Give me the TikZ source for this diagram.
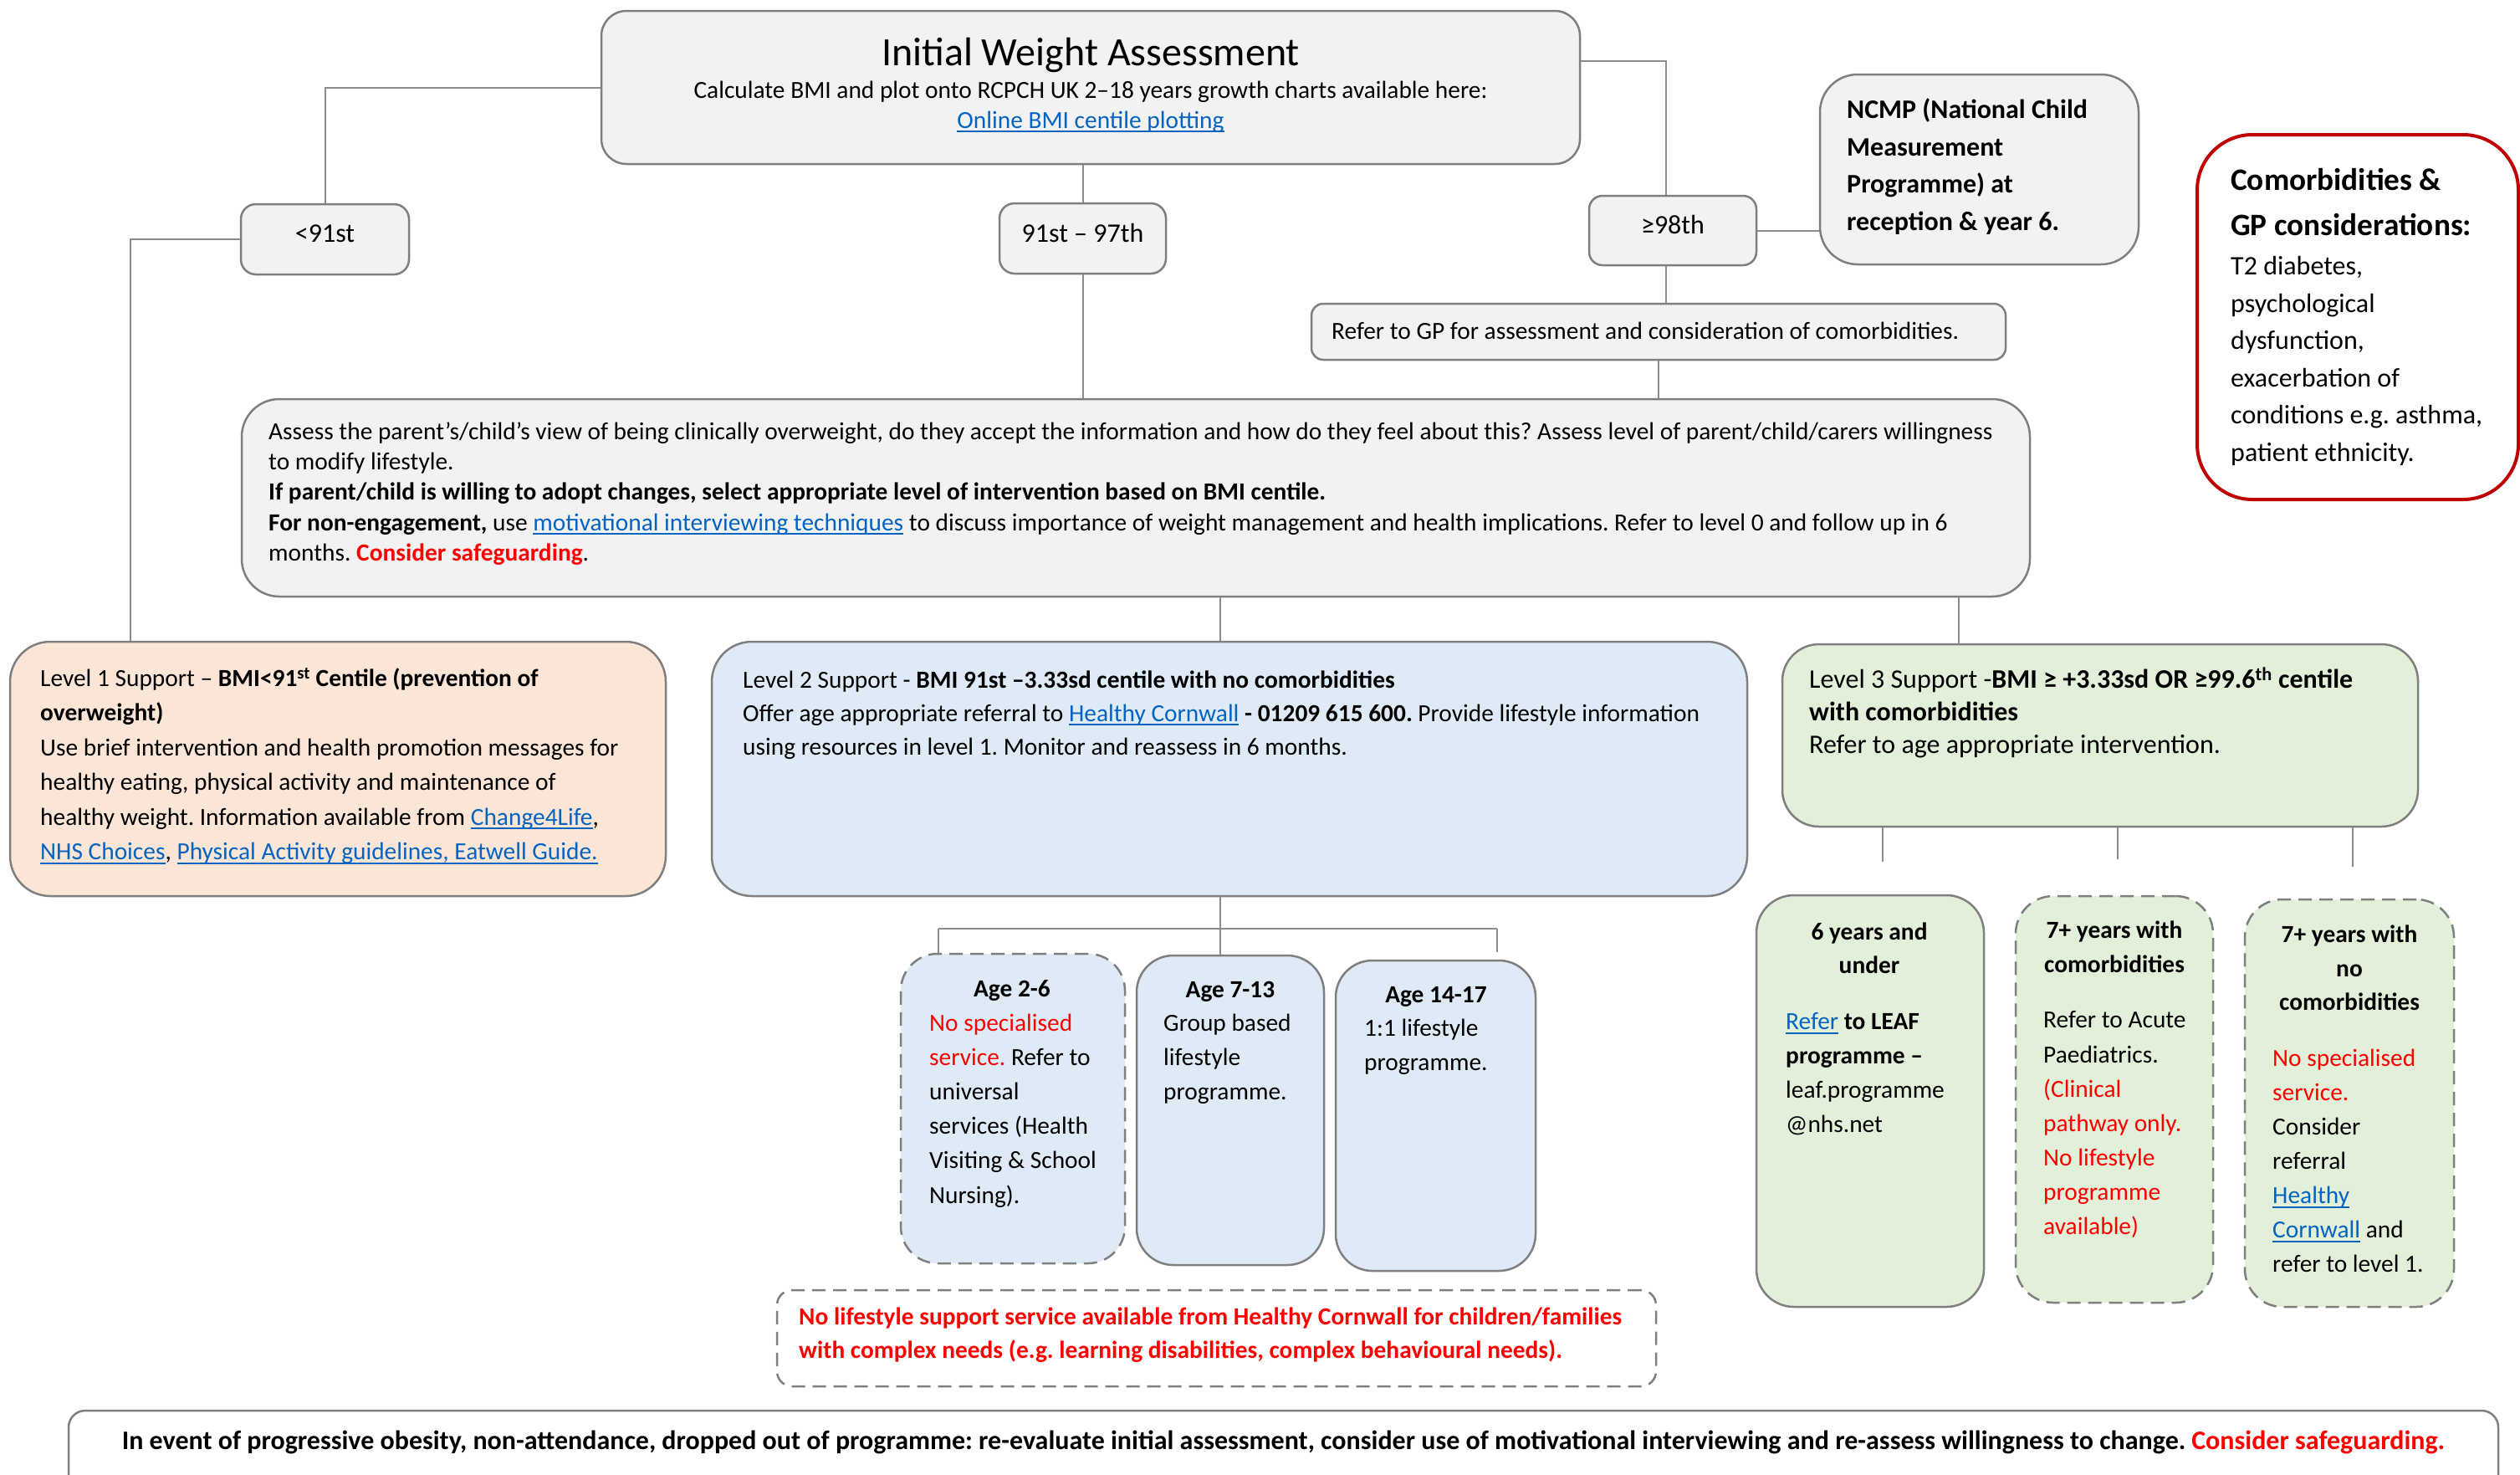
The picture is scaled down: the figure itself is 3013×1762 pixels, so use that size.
\documentclass[tikz,border=0pt]{standalone}
\usepackage{fontspec}
\setmainfont{Carlito}
\usetikzlibrary{calc}
\definecolor{boxgray}{HTML}{F2F2F2}
\definecolor{bordergray}{HTML}{7F7F7F}
\definecolor{linegray}{HTML}{8C8C8C}
\definecolor{peach}{HTML}{FBE5D6}
\definecolor{lblue}{HTML}{DEEBF7}
\definecolor{lgreen}{HTML}{E2EFD9}
\definecolor{linkblue}{HTML}{0563C1}
\definecolor{alertred}{HTML}{FF0000}
\definecolor{darkred}{HTML}{C00000}
\newcommand\fsz[2]{\fontsize{#1pt}{#2pt}\selectfont}
\newcommand\lnk[1]{\textcolor{linkblue}{\setbox0\hbox{#1}\rlap{\rule[-5pt]{\wd0}{1.8pt}}\box0}}
\newcommand\rtxt[1]{\textcolor{alertred}{#1}}
\frenchspacing
\begin{document}
\begin{tikzpicture}[x=1pt,y=-1pt,
  box/.style={draw=bordergray,line width=2.5pt,rounded corners=#1,inner sep=0pt},
  box/.default=40pt,
  dbox/.style={box=#1,dash pattern=on 16pt off 9pt},
  dbox/.default=40pt,
  conn/.style={draw=linegray,line width=2pt},
  txt/.style={anchor=north west,inner sep=0pt,align=left},
  ctxt/.style={anchor=north,inner sep=0pt,align=center},
  btxt/.style={anchor=base,inner sep=0pt},
  body/.style={font=\fsz{29.4}{41.5}}]
\fill[white] (0,0) rectangle (3013,1762);
\useasboundingbox (0,0) rectangle (3013,1762);
\clip (0,0) rectangle (3013,1762);

% ---------- boxes ----------
\node[box=30pt,fill=boxgray,minimum width=1170pt,minimum height=183pt] (iwa) at (1304,104.5) {};
\node[box=18pt,fill=boxgray,minimum width=201pt,minimum height=84pt] (lt91) at (388.5,286) {};
\node[box=18pt,fill=boxgray,minimum width=199pt,minimum height=84pt] (m97) at (1294.5,285) {};
\node[box=16pt,fill=boxgray,minimum width=200pt,minimum height=83pt] (ge98) at (2000,275.5) {};
\node[box=45pt,fill=boxgray,minimum width=381pt,minimum height=227pt] (ncmp) at (2366.5,202.5) {};
\node[box=66pt,draw=darkred,line width=4pt,fill=white,minimum width=384pt,minimum height=436pt] (comorb) at (2819,379) {};
\node[box=14pt,fill=boxgray,minimum width=830pt,minimum height=67pt] (gp) at (1983,396.5) {};
\node[box=45pt,fill=boxgray,minimum width=2138pt,minimum height=236pt] (assess) at (1358,595) {};
\node[box=48pt,fill=peach,minimum width=784pt,minimum height=304pt] (l1) at (404,919) {};
\node[box=48pt,fill=lblue,minimum width=1238pt,minimum height=304pt] (l2) at (1470,919) {};
\node[box=44pt,fill=lgreen,minimum width=760pt,minimum height=218pt] (l3) at (2511,879) {};
\node[dbox=44pt,fill=lblue,minimum width=268pt,minimum height=370pt] (a26) at (1211,1325) {};
\node[box=44pt,fill=lblue,minimum width=224pt,minimum height=370pt] (a713) at (1471,1327) {};
\node[box=44pt,fill=lblue,minimum width=239pt,minimum height=371pt] (a1417) at (1716.5,1333.5) {};
\node[dbox=18pt,fill=white,minimum width=1051pt,minimum height=115pt] (cx) at (1454.5,1599.5) {};
\node[box=45pt,fill=lgreen,minimum width=272pt,minimum height=492pt] (s6) at (2236,1316) {};
\node[dbox=45pt,fill=lgreen,minimum width=236pt,minimum height=486pt] (s7c) at (2528,1314) {};
\node[dbox=45pt,fill=lgreen,minimum width=250pt,minimum height=487pt] (s7n) at (2809,1318.5) {};
\node[box=20pt,fill=white,minimum width=2905pt,minimum height=114pt] (bot) at (1534.5,1743) {};

% ---------- connectors ----------
\draw[conn] (iwa.west) -| (lt91.north);
\draw[conn] ([yshift=31.5pt]iwa.east) -| ([xshift=-8pt]ge98.north);
\draw[conn] (m97.north |- iwa.south) -- (m97.north);
\coordinate (l1in) at ([xshift=-248pt]l1.north);
\draw[conn] (lt91.west) -| (l1in);
\draw[conn] (m97.south) -- (m97.south |- assess.north);
\draw[conn] (ge98.east) -- (ge98.east -| ncmp.west);
\coordinate (gein) at ([xshift=-8pt]ge98.south);
\draw[conn] (gein) -- (gein |- gp.north);
\draw[conn] (gp.south) -- (gp.south |- assess.north);
\coordinate (l2in) at ([xshift=-11pt]l2.north);
\draw[conn] (l2in |- assess.south) -- (l2in);
\coordinate (l3in) at ([xshift=-169pt]l3.north);
\draw[conn] (l3in |- assess.south) -- (l3in);
\coordinate (l2out) at ([xshift=-11pt]l2.south);
\draw[conn] (l2out) -- (l2out |- a713.north);
\coordinate (barL) at (1122,1110);
\coordinate (barR) at (1790,1110);
\coordinate (stubR) at (1790,1138);
\draw[conn] (barL) -- (barR);
\draw[conn] (barL) -- (barL |- a26.north);
\draw[conn] (barR) -- (stubR);
\coordinate (t1) at (2251,1030);
\coordinate (t2) at (2532,1027);
\coordinate (t3) at (2813,1036);
\draw[conn] (t1 |- l3.south) -- (t1);
\draw[conn] (t2 |- l3.south) -- (t2);
\draw[conn] (t3 |- l3.south) -- (t3);

% ---------- texts ----------
\node[btxt,font=\fsz{48}{58}] (iwat) at (1304,78) {Initial Weight Assessment};
\node[btxt,body] (iwas) at (1304,117) {Calculate BMI and plot onto RCPCH UK 2–18 years growth charts available here:};
\node[btxt,body] (iwal) at (1304,153) {\lnk{Online BMI centile plotting}};
\node[btxt,font=\fsz{32}{39}] (lt91t) at (388.5,289) {<91st};
\node[btxt,font=\fsz{32}{39}] (m97t) at (1294.5,289) {91st – 97th};
\node[btxt,font=\fsz{32}{39}] (ge98t) at (2000,279) {≥98th};
\node[txt,font=\fsz{32}{44.7}\bfseries] (ncmpt) at (2208,110) {\strut NCMP (National Child\\Measurement\\Programme) at\\reception \& year 6.};
\node[txt,font=\fsz{37.3}{54}\bfseries] (comh) at (2667,189) {\strut Comorbidities \&\\GP considerations:};
\node[txt,font=\fsz{32}{44.6}] (comb) at (2667,297) {\strut T2 diabetes,\\psychological\\dysfunction,\\exacerbation of\\conditions e.g. asthma,\\patient ethnicity.};
\node[btxt,anchor=base west,body] (gpt) at (1592,405) {Refer to GP for assessment and consideration of comorbidities.};

\node[txt,font=\fsz{29.4}{36.2}] (asst) at (321,500) {\strut Assess the parent’s/child’s view of being clinically overweight, do they accept the information and how do they feel about this? Assess level of parent/child/carers willingness\\
to modify lifestyle.\\
\textbf{If parent/child is willing to adopt changes, select appropriate level of intervention based on BMI centile.}\\
\textbf{For non-engagement,} use \lnk{motivational interviewing techniques} to discuss importance of weight management and health implications. Refer to level 0 and follow up in 6\\
months. \rtxt{\textbf{Consider safeguarding}}.};

\node[txt,body] (l1t) at (48,791) {\strut Level 1 Support – \textbf{BMI<91\textsuperscript{st} Centile (prevention of}\\
\textbf{overweight)}\\
Use brief intervention and health promotion messages for\\
healthy eating, physical activity and maintenance of\\
healthy weight. Information available from \lnk{Change4Life},\\
\lnk{NHS Choices}, \lnk{Physical Activity guidelines, Eatwell Guide.}};

\node[txt,font=\fsz{29.4}{40}] (l2t) at (888,794) {\strut Level 2 Support - \textbf{BMI 91st –3.33sd centile with no comorbidities}\\
Offer age appropriate referral to \lnk{Healthy Cornwall} \textbf{- 01209 615 600.} Provide lifestyle information\\
using resources in level 1. Monitor and reassess in 6 months.};

\node[txt,font=\fsz{32}{39}] (l3t) at (2163,795) {\strut Level 3 Support -\textbf{BMI ≥ +3.33sd OR ≥99.6\textsuperscript{th} centile}\\
\textbf{with comorbidities}\\
Refer to age appropriate intervention.};

\node[btxt,font=\fsz{29.4}{41}\bfseries] (a26h) at (1210,1191) {Age 2-6};
\node[txt,font=\fsz{29.4}{41.2}] (a26b) at (1111,1203) {\strut\rtxt{No specialised}\\\rtxt{service.} Refer to\\universal\\services (Health\\Visiting \& School\\Nursing).};
\node[btxt,font=\fsz{29.4}{41}\bfseries] (a713h) at (1471,1192) {Age 7-13};
\node[txt,font=\fsz{29.4}{41}] (a713b) at (1391,1204) {\strut Group based\\lifestyle\\programme.};
\node[btxt,font=\fsz{29.4}{41}\bfseries] (a1417h) at (1717,1198) {Age 14-17};
\node[txt,font=\fsz{29.4}{41}] (a1417b) at (1631,1210) {\strut 1:1 lifestyle\\programme.};

\node[ctxt,font=\fsz{29.4}{40}\bfseries] (s6h) at (2235,1095) {\strut 6 years and\\under};
\node[txt,font=\fsz{29.4}{41}] (s6b) at (2135,1202) {\strut\lnk{Refer} \textbf{to LEAF}\\\textbf{programme –}\\leaf.programme\\@nhs.net};
\node[ctxt,font=\fsz{29.4}{40.5}\bfseries] (s7ch) at (2528,1093) {\strut 7+ years with\\comorbidities};
\node[txt,font=\fsz{29.4}{41.1}] (s7cb) at (2443,1200) {\strut Refer to Acute\\Paediatrics.\\\rtxt{(Clinical}\\\rtxt{pathway only.}\\\rtxt{No lifestyle}\\\rtxt{programme}\\\rtxt{available)}};
\node[ctxt,font=\fsz{29.4}{40.5}\bfseries] (s7nh) at (2809,1098) {\strut 7+ years with\\no\\comorbidities};
\node[txt,font=\fsz{29.4}{41}] (s7nb) at (2717,1246) {\strut\rtxt{No specialised}\\\rtxt{service.}\\Consider\\referral\\\lnk{Healthy}\\\lnk{Cornwall} and\\refer to level 1.};

\node[txt,font=\fsz{29.4}{40}\bfseries,text=alertred] (cxt) at (955,1555) {\strut No lifestyle support service available from Healthy Cornwall for children/families\\with complex needs (e.g. learning disabilities, complex behavioural needs).};
\node[btxt,font=\fsz{32}{38}\bfseries] (bott) at (1534.5,1732) {In event of progressive obesity, non-attendance, dropped out of programme: re-evaluate initial assessment, consider use of motivational interviewing and re-assess willingness to change. \rtxt{Consider safeguarding.}};
\end{tikzpicture}
\end{document}
